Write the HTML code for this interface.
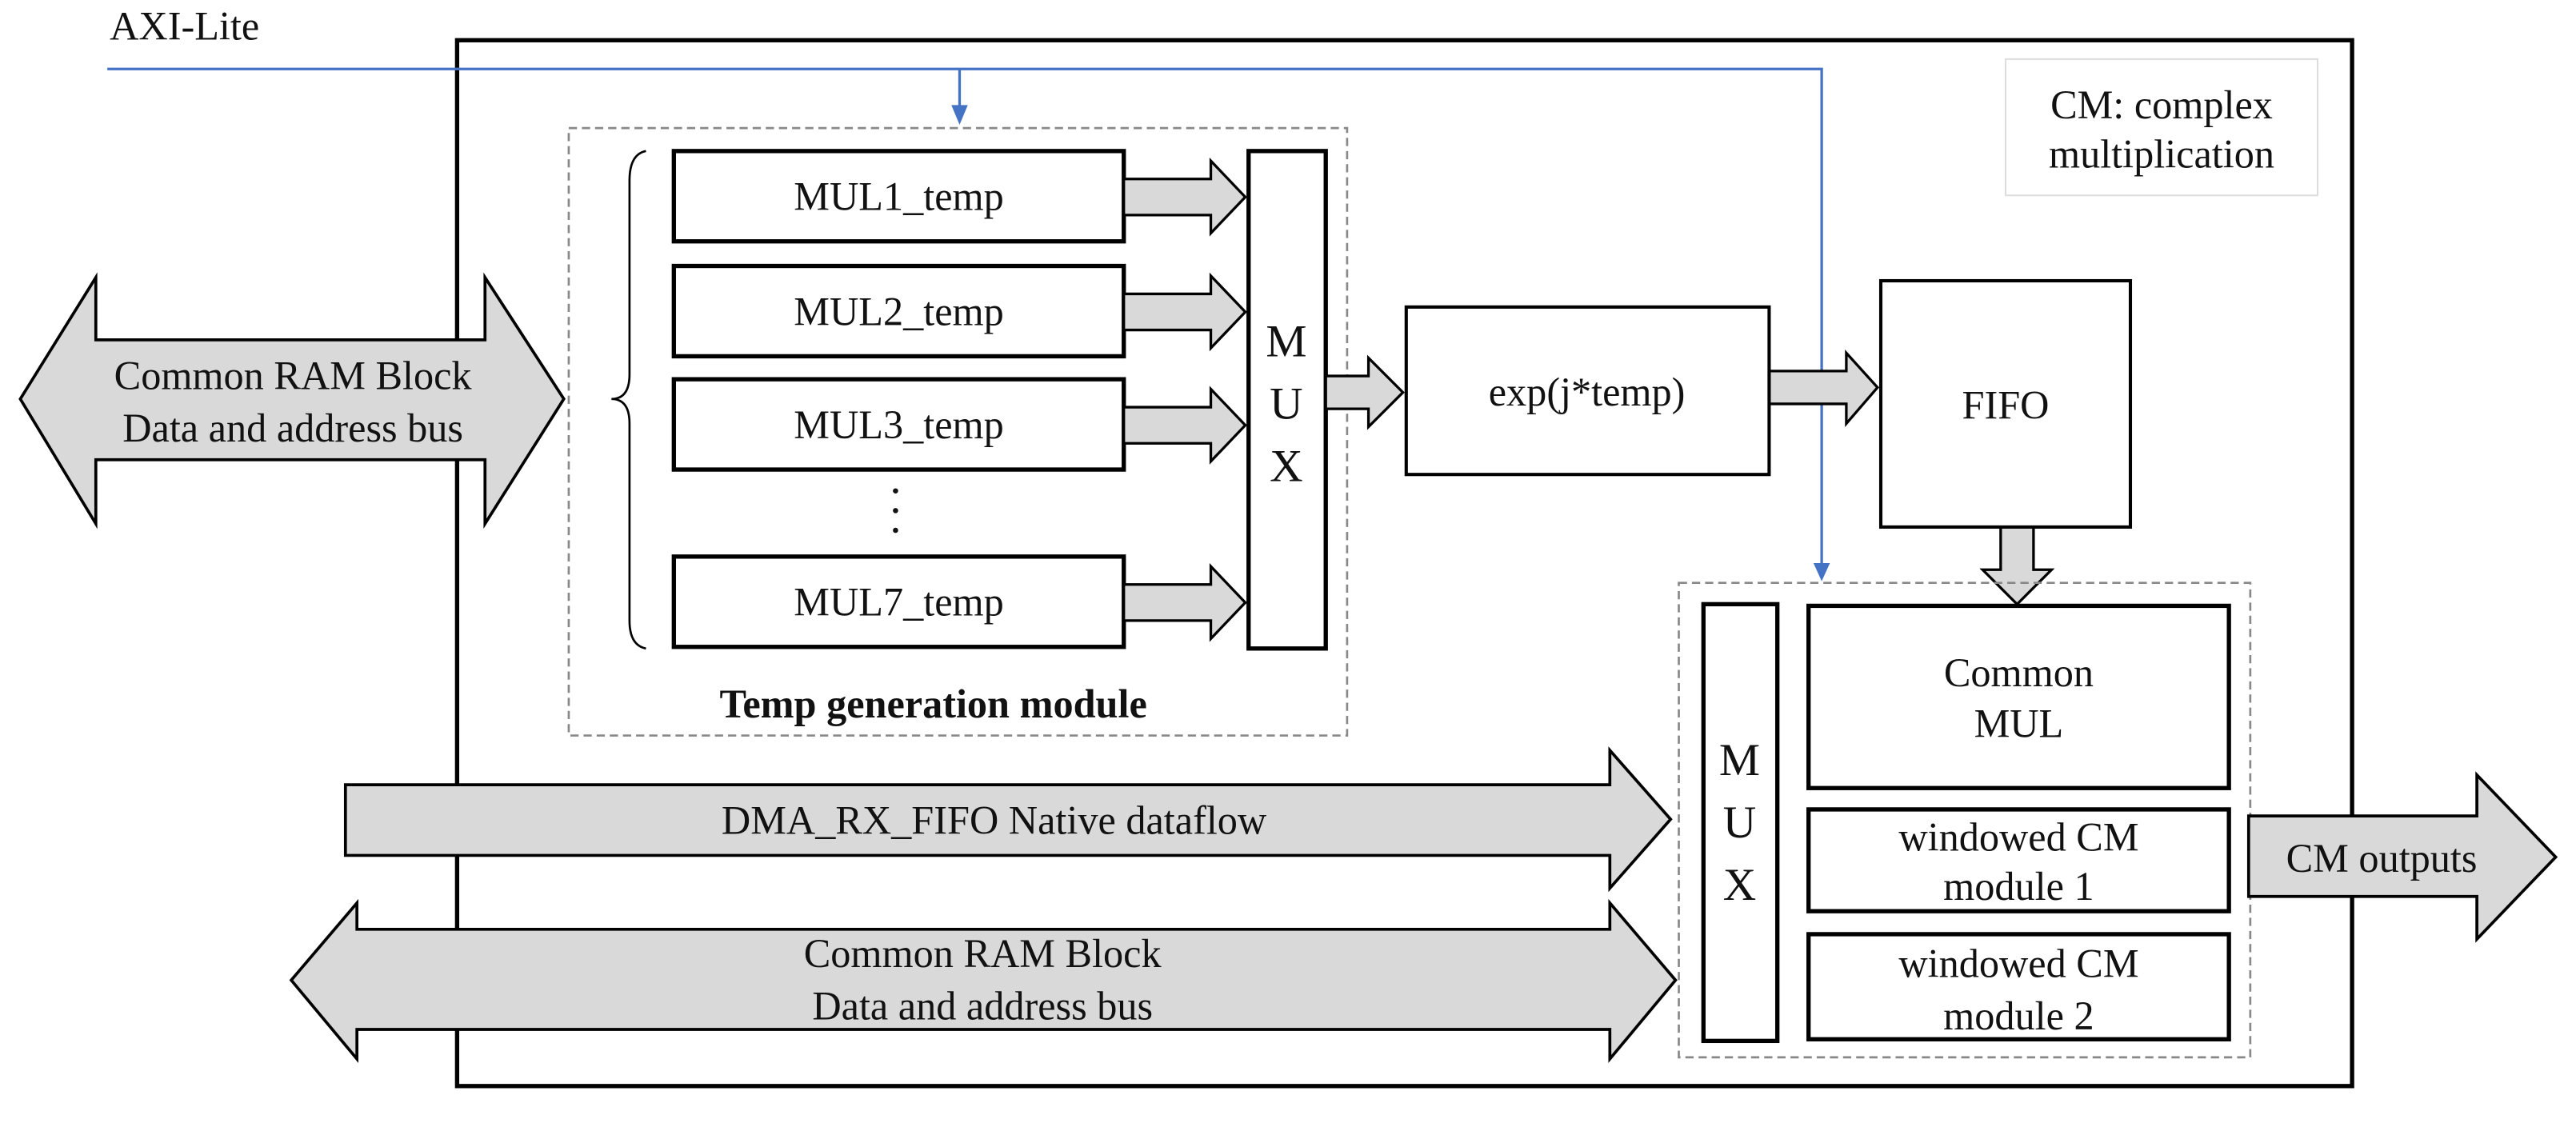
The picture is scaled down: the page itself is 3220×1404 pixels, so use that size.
<!DOCTYPE html>
<html><head><meta charset="utf-8"><style>
html,body{margin:0;padding:0;background:#fff;}
svg{display:block;}
text{font-family:"Liberation Serif",serif;font-size:24.5px;fill:#111;}
.mx{font-size:28px;}
</style></head><body>
<svg width="3220" height="1404" viewBox="0 0 1568 684" xmlns="http://www.w3.org/2000/svg">
<!-- outer box -->
<rect x="278" y="24.5" width="1154" height="637" fill="none" stroke="#000" stroke-width="2.6"/>
<!-- CM note -->
<rect x="1221" y="36" width="190" height="83" fill="#fff" stroke="#ddd" stroke-width="1"/>
<text x="1316" y="72" text-anchor="middle">CM: complex</text>
<text x="1316" y="102" text-anchor="middle">multiplication</text>
<!-- AXI-Lite -->
<text x="112" y="24" text-anchor="middle">AXI-Lite</text>
<path d="M65,42 H1109 V345" fill="none" stroke="#4472c4" stroke-width="1.6"/>
<path d="M1104,343 L1114,343 L1109,354 z" fill="#4472c4"/>
<path d="M584,42 V66" fill="none" stroke="#4472c4" stroke-width="1.6"/>
<path d="M579,64 L589,64 L584,76 z" fill="#4472c4"/>
<!-- temp dashed box -->
<rect x="346" y="78" width="474" height="370" fill="none" stroke="#888" stroke-width="1.3" stroke-dasharray="5,3"/>
<text x="568" y="437" text-anchor="middle" style="font-weight:bold">Temp generation module</text>
<!-- brace -->
<path d="M393,92 Q383,94 383,110 L383,228 Q383,243 372,243 Q383,243 383,258 L383,378 Q383,393 393,395" fill="none" stroke="#000" stroke-width="1.3"/>
<!-- MUL boxes -->
<g fill="#fff" stroke="#000" stroke-width="2.6">
<rect x="410" y="92" width="274" height="55"/>
<rect x="410" y="162" width="274" height="55"/>
<rect x="410" y="231" width="274" height="55"/>
<rect x="410" y="339" width="274" height="55"/>
<rect x="760" y="92" width="47" height="303"/>
</g>
<text x="547" y="128" text-anchor="middle">MUL1_temp</text>
<text x="547" y="198" text-anchor="middle">MUL2_temp</text>
<text x="547" y="267" text-anchor="middle">MUL3_temp</text>
<text x="547" y="375" text-anchor="middle">MUL7_temp</text>
<circle cx="545" cy="299" r="1.6" fill="#111"/><circle cx="545" cy="311" r="1.6" fill="#111"/><circle cx="545" cy="323" r="1.6" fill="#111"/>
<text class="mx" x="783" y="217" text-anchor="middle">M</text>
<text class="mx" x="783" y="255" text-anchor="middle">U</text>
<text class="mx" x="783" y="293" text-anchor="middle">X</text>
<!-- small arrows -->
<g fill="#d9d9d9" stroke="#000" stroke-width="1.6">
<path d="M684,109 H737 V98 L758,120 L737,142 V131 H684 z"/>
<path d="M684,179 H737 V168 L758,190 L737,212 V201 H684 z"/>
<path d="M684,248 H737 V237 L758,259 L737,281 V270 H684 z"/>
<path d="M684,356 H737 V345 L758,367 L737,389 V378 H684 z"/>
<path d="M807,229 H833 V218 L854,239 L833,260 V249 H807 z"/>
<path d="M1077,226 H1124 V215 L1143,236 L1124,258 V246 H1077 z"/>
<path d="M1218,321 H1238 V347 H1249 L1228,368 L1207,347 H1218 z"/>
</g>
<!-- exp box -->
<rect x="856" y="187" width="221" height="102" fill="#fff" stroke="#000" stroke-width="2"/>
<text x="966" y="247" text-anchor="middle">exp(j*temp)</text>
<!-- FIFO -->
<rect x="1145" y="171" width="152" height="150" fill="#fff" stroke="#000" stroke-width="2"/>
<text x="1221" y="255" text-anchor="middle">FIFO</text>
<!-- left double arrow -->
<path d="M12,243 L58,169 V207 H295 V169 L343,243 L295,319 V280 H58 V319 z" fill="#d9d9d9" stroke="#000" stroke-width="1.8"/>
<text x="178" y="237" text-anchor="middle">Common RAM Block</text>
<text x="178" y="269" text-anchor="middle">Data and address bus</text>
<!-- DMA arrow -->
<path d="M210,478 H980 V457 L1017,499 L980,541 V521 H210 z" fill="#d9d9d9" stroke="#000" stroke-width="1.8"/>
<text x="605" y="508" text-anchor="middle">DMA_RX_FIFO Native dataflow</text>
<!-- bottom double arrow -->
<path d="M177,597 L217,550 V566 H980 V550 L1020,597 L980,645 V627 H217 V645 z" fill="#d9d9d9" stroke="#000" stroke-width="1.8"/>
<text x="598" y="589" text-anchor="middle">Common RAM Block</text>
<text x="598" y="621" text-anchor="middle">Data and address bus</text>
<!-- dashed box 2 -->
<rect x="1022" y="355" width="348" height="289" fill="none" stroke="#888" stroke-width="1.3" stroke-dasharray="5,3"/>
<g fill="#fff" stroke="#000" stroke-width="2.6">
<rect x="1037" y="368" width="45" height="266"/>
<rect x="1101" y="369" width="256" height="111"/>
<rect x="1101" y="493" width="256" height="62"/>
<rect x="1101" y="569" width="256" height="64"/>
</g>
<text class="mx" x="1059" y="472" text-anchor="middle">M</text>
<text class="mx" x="1059" y="510" text-anchor="middle">U</text>
<text class="mx" x="1059" y="548" text-anchor="middle">X</text>
<text x="1229" y="418" text-anchor="middle">Common</text>
<text x="1229" y="449" text-anchor="middle">MUL</text>
<text x="1229" y="518" text-anchor="middle">windowed CM</text>
<text x="1229" y="548" text-anchor="middle">module 1</text>
<text x="1229" y="595" text-anchor="middle">windowed CM</text>
<text x="1229" y="627" text-anchor="middle">module 2</text>
<!-- CM outputs -->
<path d="M1369,497 H1508 V472 L1556,522 L1508,572 V546 H1369 z" fill="#d9d9d9" stroke="#000" stroke-width="1.8"/>
<text x="1450" y="531" text-anchor="middle">CM outputs</text>
</svg>
</body></html>
